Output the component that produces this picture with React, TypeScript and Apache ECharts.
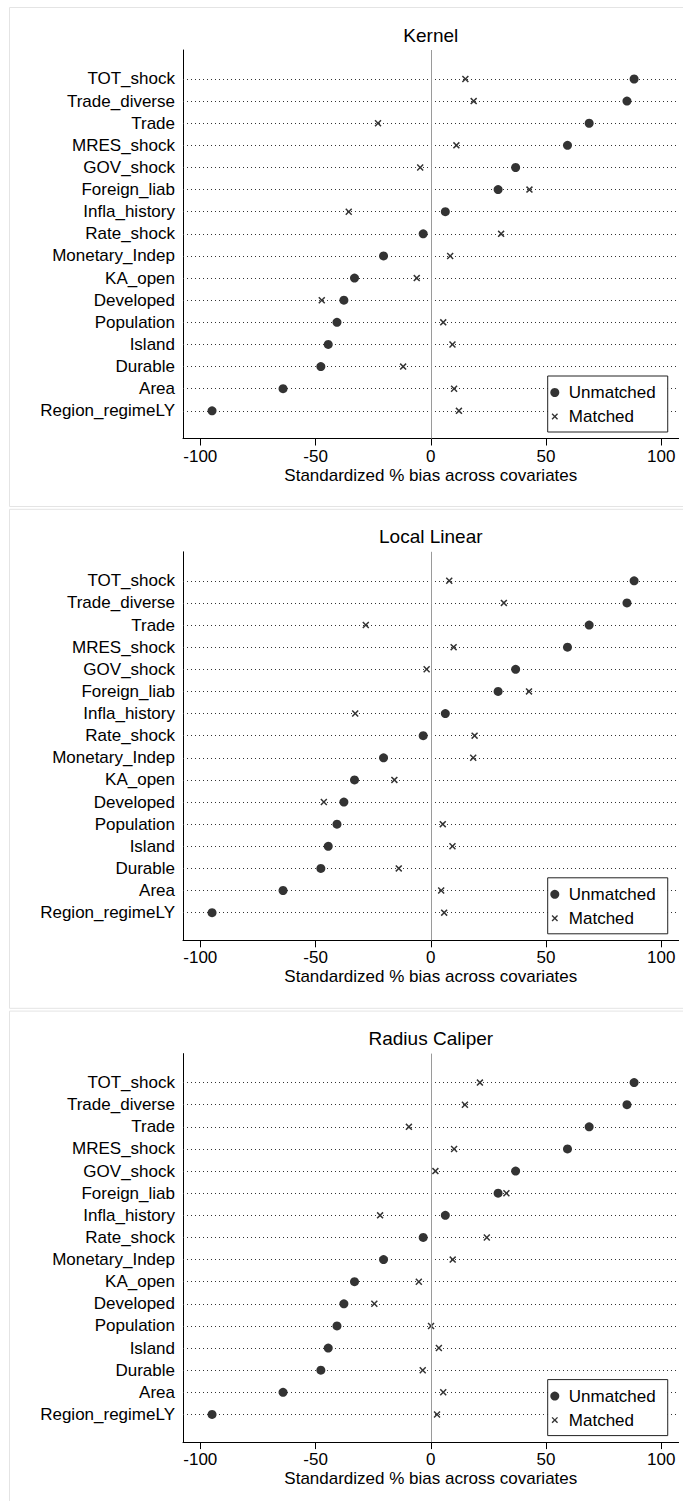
import React, { useEffect, useRef } from 'react';
import * as echarts from 'echarts';

const categories = [
  'TOT_shock', 'Trade_diverse', 'Trade', 'MRES_shock', 'GOV_shock', 'Foreign_liab',
  'Infla_history', 'Rate_shock', 'Monetary_Indep', 'KA_open', 'Developed', 'Population',
  'Island', 'Durable', 'Area', 'Region_regimeLY',
];
const unmatched = [88.2, 85.1, 68.7, 59.3, 36.8, 29.2, 6.3, -3.3, -20.5, -33.1, -37.7, -40.7, -44.5, -47.7, -64.1, -94.9];
const matchedKernel = [15.0, 18.6, -22.9, 11.1, -4.6, 42.8, -35.6, 30.5, 8.4, -6.1, -47.3, 5.4, 9.4, -12.0, 10.1, 12.2];
const matchedLocalLinear = [8.0, 31.7, -28.2, 9.9, -1.8, 42.6, -32.8, 19.0, 18.4, -15.8, -46.4, 5.2, 9.4, -13.9, 4.5, 5.8];
const matchedRadius = [21.3, 14.8, -9.5, 10.1, 2.0, 32.8, -22.0, 24.3, 9.5, -5.2, -24.5, 0.1, 3.5, -3.5, 5.4, 2.7];
const panelTitles = ['Kernel', 'Local Linear', 'Radius Caliper'];
const xTicks = [-100, -50, 0, 50, 100];
const xAxisTitle = 'Standardized % bias across covariates';
const legendNames = ['Unmatched', 'Matched'];

const FONT = '"Liberation Sans", Arial, Helvetica, sans-serif';
const PANEL_STEP = 501.8;
const CROSS = 'path://M0,1.5L1.5,0L5,3.5L8.5,0L10,1.5L6.5,5L10,8.5L8.5,10L5,6.5L1.5,10L0,8.5L3.5,5Z';
const CROSS_LEGEND = 'path://M-2,-2L-2,-2M12,12L12,12M0,1.5L1.5,0L5,3.5L8.5,0L10,1.5L6.5,5L10,8.5L8.5,10L5,6.5L1.5,10L0,8.5L3.5,5Z';

export default function App() {
  const ref = useRef<HTMLDivElement>(null);
  useEffect(() => {
    const chart = echarts.init(ref.current as HTMLDivElement, null, { renderer: 'svg' });
    const matchedSets = [matchedKernel, matchedLocalLinear, matchedRadius];
    const rows = categories.map((_, i) => i + 1);
    const grids: any[] = [];
    const xAxes: any[] = [];
    const yAxes: any[] = [];
    const series: any[] = [];
    const legends: any[] = [];
    const graphics: any[] = [];

    panelTitles.forEach((title, k) => {
      const dy = k * PANEL_STEP;
      graphics.push({
        type: 'rect', silent: true, z: -10,
        shape: { x: 9.5, y: 7.5 + dy, width: 720, height: 499 },
        style: { fill: 'none', stroke: '#e4e4e4', lineWidth: 1 },
      });
      graphics.push({
        type: 'text', silent: true, x: 430.8, y: 35 + dy,
        style: {
          text: title, fontSize: 19, fontFamily: FONT, fill: '#000',
          align: 'center', verticalAlign: 'middle', textAlign: 'center', textVerticalAlign: 'middle',
        },
      });
      grids.push({ left: 183, top: 50 + dy, width: 495.6, height: 388.5 });
      xAxes.push({
        type: 'value', gridIndex: k, min: -107.5, max: 107.5,
        axisLine: { show: true, onZero: false, lineStyle: { color: '#000', width: 1 } },
        axisTick: { show: true, length: 7, customValues: xTicks, lineStyle: { color: '#000', width: 1 } },
        axisLabel: { customValues: xTicks, fontSize: 17, color: '#000', fontFamily: FONT, margin: 9 },
        splitLine: { show: false },
        name: xAxisTitle, nameLocation: 'middle', nameGap: 28,
        nameTextStyle: { fontSize: 17, color: '#000', fontFamily: FONT },
      });
      yAxes.push({
        type: 'value', gridIndex: k, inverse: true, min: -0.31, max: 17.25,
        axisLine: { show: true, onZero: false, lineStyle: { color: '#000', width: 1 } },
        axisTick: { show: false },
        axisLabel: {
          customValues: rows,
          formatter: (v: number) => categories[Math.round(v) - 1] ?? '',
          fontSize: 17, color: '#000', fontFamily: FONT, margin: 8,
        },
        splitLine: { show: false },
      });
      series.push({
        type: 'scatter', xAxisIndex: k, yAxisIndex: k, data: [], silent: true, z: 1,
        markLine: {
          silent: true, symbol: ['none', 'none'], label: { show: false },
          emphasis: { disabled: true },
          data: [
            ...rows.map((r) => ({ yAxis: r, lineStyle: { type: [1, 3], color: '#333', width: 1 } })),
            { xAxis: 0, lineStyle: { type: 'solid', color: '#9a9a9a', width: 1 } },
          ],
        },
      });
      series.push({
        name: legendNames[0], type: 'scatter', xAxisIndex: k, yAxisIndex: k, z: 3,
        symbol: 'circle', symbolSize: 9, itemStyle: { color: '#000' },
        emphasis: { disabled: true },
        data: unmatched.map((v, i) => [v, i + 1]),
      });
      series.push({
        name: legendNames[1], type: 'scatter', xAxisIndex: k, yAxisIndex: k, z: 4,
        symbol: CROSS, symbolSize: 7, itemStyle: { color: '#000' },
        emphasis: { disabled: true },
        data: matchedSets[k].map((v, i) => [v, i + 1]),
      });
      legends.push({
        show: true, orient: 'vertical', left: 547.7, top: 376 + dy,
        data: [{ name: legendNames[0], icon: 'circle' }, { name: legendNames[1], icon: CROSS_LEGEND }],
        itemWidth: 18, itemHeight: 9, itemGap: 7, padding: [8, 12, 7, 2.6],
        borderColor: '#222', borderWidth: 1, backgroundColor: '#fff',
        textStyle: { fontSize: 17, color: '#000', fontFamily: FONT },
        selectedMode: false, symbolKeepAspect: true, z: 10,
      });
    });

    chart.setOption({
      animation: false,
      backgroundColor: '#fff',
      textStyle: { fontFamily: FONT },
      grid: grids,
      xAxis: xAxes,
      yAxis: yAxes,
      series,
      legend: legends,
      graphic: graphics,
    });
    return () => chart.dispose();
  }, []);

  return (
    <div
      ref={ref}
      style={{ position: 'absolute', left: 0, top: 0, width: 683, height: 1501, overflow: 'hidden' }}
    />
  );
}
